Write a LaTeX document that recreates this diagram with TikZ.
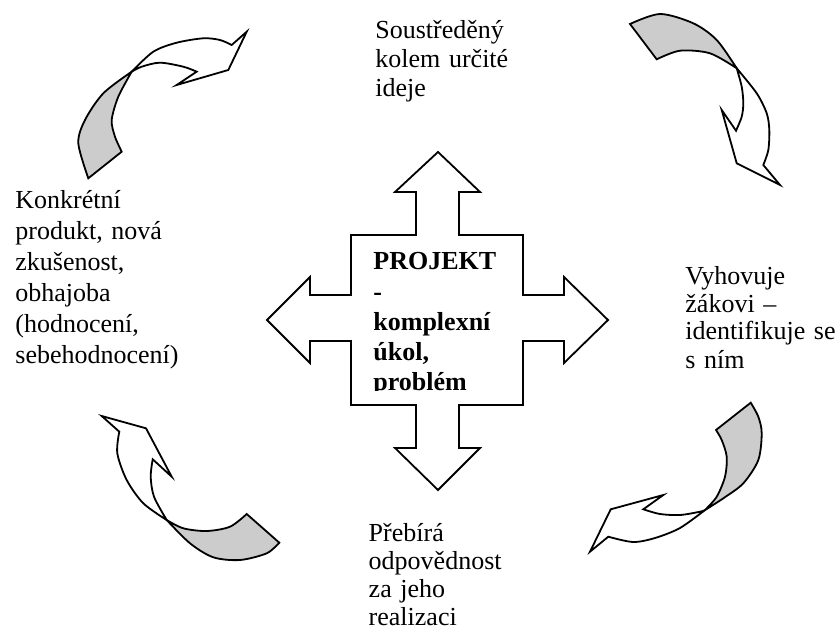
\documentclass[tikz,border=0pt]{standalone}
\usepackage{fontspec}
\setmainfont{Liberation Serif}
\tikzset{
  flap/.style={draw, line width=0.9pt, fill=gray!40, line join=miter},
  sipka/.style={draw, line width=0.9pt, fill=white, line join=miter},
  txt/.style={anchor=base west, inner sep=0pt, text width=9cm, align=left},
}
\begin{document}
\begin{tikzpicture}[x=0.5pt, y=-0.5pt]
	\useasboundingbox (0,0) rectangle (838,630);
	% kriz uprostred
	\draw[line width=0.9pt, line join=miter] (438,152) -- (480,192) -- (459,192) -- (459,235) -- (523,235) -- (523,295) -- (564,295) -- (564,277) -- (608,320) -- (564,363) -- (564,341) -- (523,341) -- (523,405) -- (459,405) -- (459,448) -- (480,448) -- (438,490) -- (395,448) -- (416,448) -- (416,405) -- (351,405) -- (351,341) -- (310,341) -- (310,363) -- (267,320) -- (310,277) -- (310,295) -- (351,295) -- (351,235) -- (416,235) -- (416,192) -- (395,192) -- cycle;
	\begin{scope}
		\clip (351,235) rectangle (523,390.8);
		\node[txt, font=\fontsize{13pt}{15pt}\selectfont\bfseries] (projekt) at (373,270) {PROJEKT\\-\\komplexní\\úkol,\\problém};
	\end{scope}
	% zahnute sipky
	\path[flap] (88.3,178.3) -- (121.7,151.7) -- plot[smooth] coordinates {(121.7,151.7) (115,136.7) (111.7,120) (118.3,96.7) (131.7,71.7)} -- plot[smooth] coordinates {(131.7,71.7) (103.3,93.3) (85,120) (78.3,143.3) (88.3,178.3)} -- cycle;
	\path[sipka] plot[smooth] coordinates {(131.7,71.7) (153.3,51.7) (176.7,42.7) (203.3,38.3) (220,40) (231.7,45)} -- (246.7,31.7) -- (228.3,70) -- (176.7,85) -- (196.7,71.7) -- plot[smooth] coordinates {(196.7,71.7) (183.3,66.7) (160,62.7) (141.7,66.7) (131.7,71.7)} -- cycle;
	\path[flap] (630,24) -- (656.7,59.3) -- plot[smooth] coordinates {(656.7,59.3) (680,50.7) (710,53.3) (736.7,68.3)} -- plot[smooth] coordinates {(736.7,68.3) (716.7,40) (693.3,23.3) (660,14) (630,24)} -- cycle;
	\path[sipka] plot[smooth] coordinates {(736.7,68.3) (756.7,93.3) (766.7,113.3) (769.3,130) (768.3,150) (763.3,165)} -- (780,185) -- (736.7,163.3) -- (721.7,110) -- (736,130.7) -- plot[smooth] coordinates {(736,130.7) (741.7,116.7) (743.3,103.3) (741.7,86.7) (736.7,68.3)} -- cycle;
	\path[flap] (246.7,514) -- (279.3,542.7) -- plot[smooth] coordinates {(279.3,542.7) (266.7,553.3) (240,560) (213.3,557.3) (190,543.3) (166.7,520)} -- plot[smooth] coordinates {(166.7,520) (183.3,528.3) (206.7,531) (230,526.7) (246.7,514)} -- cycle;
	\path[sipka] plot[smooth] coordinates {(166.7,520) (143.3,503.3) (126.7,480) (117.3,453.3) (119.3,431.7)} -- (101.7,416) -- (146,428.3) -- (171.7,476.7) -- (152.7,459.3) -- plot[smooth] coordinates {(152.7,459.3) (150.7,476.7) (154,496.7) (166.7,520)} -- cycle;
	\path[flap] (750.7,402.7) -- (716,430) -- plot[smooth] coordinates {(716,430) (721.7,440) (726.7,456.7) (725,476.7) (716.7,496.7) (705,510)} -- plot[smooth] coordinates {(705,510) (723.3,498.3) (743.3,483.3) (758.3,460) (761.7,433.3) (758.3,416.7) (750.7,402.7)} -- cycle;
	\path[sipka] plot[smooth] coordinates {(705,510) (680,528) (655,538) (633,542) (608.3,536.7)} -- (590,551.7) -- (610.7,509.3) -- (663.3,495) -- (643.3,509.3) -- plot[smooth] coordinates {(643.3,509.3) (660,514) (680,515) (700,511.7) (705,510)} -- cycle;
	% popisky
	\node[txt, font=\fontsize{13pt}{14.5pt}\selectfont] (idea) at (375,39) {Soustředěný\\kolem určité\\ideje};
	\node[txt, font=\fontsize{13pt}{15.5pt}\selectfont] (produkt) at (15,208.3) {Konkrétní\\produkt, nová\\zkušenost,\\obhajoba\\(hodnocení,\\sebehodnocení)};
	\node[txt, font=\fontsize{13pt}{14pt}\selectfont] (zak) at (685,284) {Vyhovuje\\žákovi –\\identifikuje se\\s ním};
	\node[txt, font=\fontsize{13pt}{14pt}\selectfont] (odpov) at (368.3,541.5) {Přebírá\\odpovědnost\\za jeho\\realizaci};
\end{tikzpicture}
\end{document}
